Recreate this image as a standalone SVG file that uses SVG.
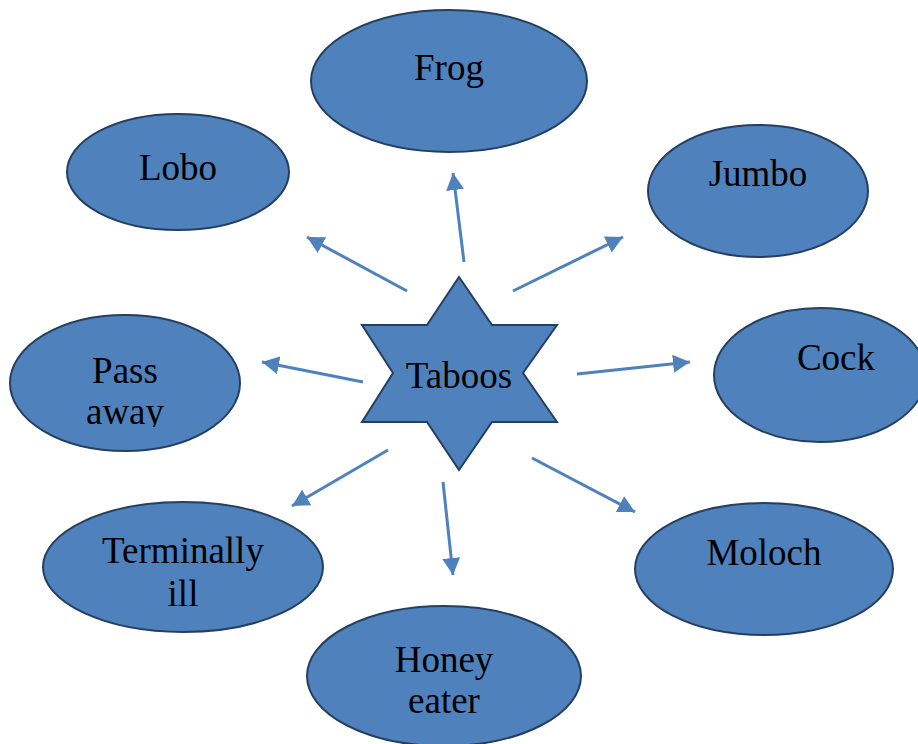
<svg xmlns="http://www.w3.org/2000/svg" width="918" height="744" viewBox="0 0 918 744">
<style>
.n{fill:#4F81BD;stroke:#243F60;stroke-width:2}
.t{font-family:"Liberation Serif",serif;font-size:37px;fill:#000;text-anchor:middle}
.c{stroke:#4F81BD;stroke-width:3;fill:none;marker-end:url(#ah)}
</style>
<defs>
<marker id="ah" markerUnits="userSpaceOnUse" markerWidth="18" markerHeight="18" refX="17" refY="9" orient="auto">
<path d="M0,0 L17,9 L0,18 z" fill="#4F81BD"/>
</marker>
<clipPath id="pclip"><rect x="0" y="300" width="260" height="127"/></clipPath>
</defs>
<rect width="918" height="744" fill="#fff"/>
<g id="connectors">
<line class="c" x1="464" y1="262" x2="453" y2="173"/>
<line class="c" x1="407" y1="291" x2="307" y2="237"/>
<line class="c" x1="513" y1="291" x2="623" y2="237"/>
<line class="c" x1="363" y1="382" x2="262" y2="362"/>
<line class="c" x1="577" y1="374" x2="690" y2="362"/>
<line class="c" x1="388" y1="450" x2="292" y2="506"/>
<line class="c" x1="443" y1="482" x2="453" y2="575"/>
<line class="c" x1="532" y1="458" x2="635" y2="512"/>
</g>
<g id="taboos">
<polygon class="n" points="459,277 492,325 557,325 523,373 557,422 492,422 459,470 427,422 362,422 393,373 362,325 427,325"/>
<text class="t" x="459" y="388">Taboos</text>
</g>
<g id="frog">
<ellipse class="n" cx="449" cy="81" rx="138" ry="71"/>
<text class="t" x="449" y="80">Frog</text>
</g>
<g id="lobo">
<ellipse class="n" cx="178" cy="172" rx="111" ry="58"/>
<text class="t" x="178" y="180">Lobo</text>
</g>
<g id="jumbo">
<ellipse class="n" cx="758" cy="191" rx="110" ry="66"/>
<text class="t" x="758" y="186">Jumbo</text>
</g>
<g id="passaway">
<ellipse class="n" cx="125" cy="383" rx="115" ry="68"/>
<g clip-path="url(#pclip)">
<text class="t" x="125" y="383">Pass</text>
<text class="t" x="125" y="424">away</text>
</g>
</g>
<g id="cock">
<ellipse class="n" cx="820" cy="375" rx="106" ry="67"/>
<text class="t" x="836" y="370">Cock</text>
</g>
<g id="terminally">
<ellipse class="n" cx="183" cy="567" rx="140" ry="65"/>
<text class="t" x="183" y="563">Terminally</text>
<text class="t" x="183" y="606">ill</text>
</g>
<g id="honey">
<ellipse class="n" cx="444" cy="676" rx="137" ry="70"/>
<text class="t" x="444" y="672">Honey</text>
<text class="t" x="444" y="713">eater</text>
</g>
<g id="moloch">
<ellipse class="n" cx="764" cy="569" rx="129" ry="66"/>
<text class="t" x="764" y="565">Moloch</text>
</g>
</svg>
